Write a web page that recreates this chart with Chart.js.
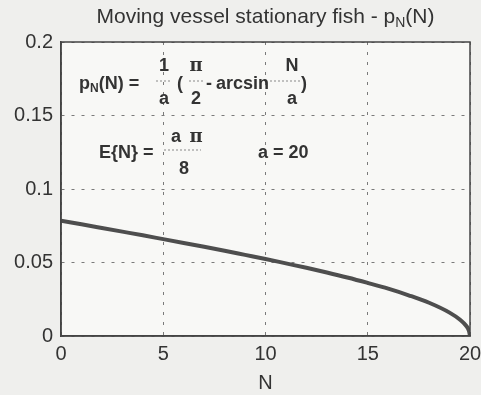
<!DOCTYPE html>
<html>
<head>
<meta charset="utf-8">
<script src="https://cdn.jsdelivr.net/npm/chart.js@4.4.1/dist/chart.umd.min.js"></script>
<style>
  html, body { margin: 0; padding: 0; background: #efefed; }
  #wrap { width: 481px; height: 395px; }
</style>
</head>
<body>
<div id="wrap"><canvas id="myChart" width="481" height="395"></canvas></div>
<script>
// valores
var valoresN = [0, 1, 2, 3, 4, 5, 6, 7, 8, 9, 10, 11, 12, 13, 14, 15, 16, 17, 18, 19, 19.5, 19.8, 19.95, 20];
var valoresP = [0.0785, 0.0760, 0.0735, 0.0710, 0.0685, 0.0659, 0.0633, 0.0607, 0.0580, 0.0552, 0.0524,
                0.0494, 0.0464, 0.0432, 0.0398, 0.0361, 0.0322, 0.0277, 0.0226, 0.0159, 0.0112, 0.0071, 0.0035, 0];
var ticksX = [0, 5, 10, 15, 20];
var ticksY = [0, 0.05, 0.1, 0.15, 0.2];

var tinta = '#333333';
var fuente = 'Liberation Sans, Arial, sans-serif';

// titulo con subindice, centrado sobre el area del grafico
var titulo = {
    id: 'titulo',
    afterDraw: function (chart) {
        var c = chart.ctx, a = chart.chartArea;
        c.save();
        c.fillStyle = tinta;
        c.textBaseline = 'middle';
        c.textAlign = 'left';
        var t1 = 'Moving vessel stationary fish - p', t2 = 'N', t3 = '(N)';
        c.font = '21px ' + fuente;
        var w1 = c.measureText(t1).width, w3 = c.measureText(t3).width;
        c.font = '14px ' + fuente;
        var w2 = c.measureText(t2).width;
        var x = (a.left + a.right) / 2 - (w1 + w2 + w3) / 2;
        c.font = '21px ' + fuente;
        c.fillText(t1, x, 17);
        c.font = '14px ' + fuente;
        c.fillText(t2, x + w1, 23);
        c.font = '21px ' + fuente;
        c.fillText(t3, x + w1 + w2, 17);
        c.restore();
    }
};

// textos de las formulas dentro del area
var formulas = {
    id: 'formulas',
    afterDraw: function (chart) {
        var c = chart.ctx;
        c.save();
        c.fillStyle = tinta;
        c.strokeStyle = '#888';
        c.lineWidth = 1;
        c.textBaseline = 'middle';
        var negrita = 'bold 18px ' + fuente;
        var pi = 'bold 18px DejaVu Serif, serif';

        function texto(t, x, y, f, al) {
            c.font = f || negrita;
            c.textAlign = al || 'left';
            c.fillText(t, x, y);
            return x + c.measureText(t).width;
        }
        function raya(x1, x2, y) {
            c.setLineDash([2, 2]);
            c.beginPath();
            c.moveTo(x1, y);
            c.lineTo(x2, y);
            c.stroke();
            c.setLineDash([]);
        }
        // p_N(N) = 1/a ( pi/2 - arcsin N/a )
        var y1 = 84;
        var x = texto('p', 79, y1);
        x = texto('N', x, y1 + 5, 'bold 12px ' + fuente);
        texto('(N) =', x, y1);
        texto('1', 164, 66, null, 'center');
        raya(156, 172, 81);
        texto('a', 164, 99, null, 'center');
        texto('(', 177, y1);
        texto('\u03c0', 196, 66, pi, 'center');
        raya(189, 203, 81);
        texto('2', 196, 99, null, 'center');
        texto('-', 206, y1);
        texto('arcsin', 216, y1);
        texto('N', 292, 66, null, 'center');
        raya(270, 300, 81);
        texto('a', 292, 99, null, 'center');
        texto(')', 301, y1);

        // E{N} = a pi / 8     a = 20
        var y2 = 153;
        texto('E{N} =', 99, y2);
        texto('a', 176, 137, null, 'center');
        texto('\u03c0', 196, 137, pi, 'center');
        raya(164, 201, 150);
        texto('8', 184, 169, null, 'center');
        texto('a = 20', 258, y2);
        c.restore();
    }
};

var ctx = document.getElementById('myChart').getContext('2d');
var puntos = valoresN.map(function (n, i) { return { x: n, y: valoresP[i] }; });

var myChart = new Chart(ctx, {
    type: 'line',
    data: {
        datasets: [{
            data: puntos,
            borderColor: '#4e4e4e',
            borderWidth: 4,
            pointRadius: 0,
            tension: 0.4,
            cubicInterpolationMode: 'monotone',
            fill: false
        }]
    },
    options: {
        responsive: false,
        animation: false,
        layout: { padding: { left: 0, right: 0, top: 42, bottom: 0 } },
        plugins: {
            legend: { display: false },
            tooltip: { enabled: false },
            title: { display: false }
        },
        scales: {
            x: {
                type: 'linear',
                min: 0,
                max: 20,
                afterBuildTicks: function (s) { s.ticks = ticksX.map(function (v) { return { value: v }; }); },
                afterFit: function (s) {
                    s.height = 59;
                    s.paddingRight = 11; // el "20" queda medio cortado como en la original
                },
                ticks: { color: tinta, font: { family: fuente, size: 20 }, padding: 6, maxRotation: 0 },
                grid: { color: '#7a7a7a', lineWidth: 1, drawTicks: false },
                border: { display: true, color: '#444', width: 1.5, dash: [3, 7] },
                title: { display: true, text: 'N', color: tinta, font: { family: fuente, size: 20 }, padding: { top: 1, bottom: 0 } }
            },
            y: {
                min: 0,
                max: 0.2,
                afterBuildTicks: function (s) { s.ticks = ticksY.map(function (v) { return { value: v }; }); },
                afterFit: function (s) { s.width = 61; },
                ticks: {
                    color: tinta,
                    font: { family: fuente, size: 20 },
                    padding: 8,
                    callback: function (v) { return String(Math.round(v * 100) / 100); }
                },
                grid: { color: '#7a7a7a', lineWidth: 1, drawTicks: false },
                border: { display: true, color: '#444', width: 1.5, dash: [3, 7] }
            }
        }
    },
    plugins: [titulo, formulas, {
        id: 'marco',
        beforeDraw: function (chart) {
            var a = chart.chartArea, c = chart.ctx;
            c.save();
            c.fillStyle = '#f8f8f6';
            c.fillRect(a.left, a.top, a.right - a.left, a.bottom - a.top);
            c.restore();
        },
        afterDatasetsDraw: function (chart) {
            var a = chart.chartArea, c = chart.ctx;
            c.save();
            c.strokeStyle = '#444';
            c.lineWidth = 1.5;
            c.strokeRect(a.left, a.top, a.right - a.left, a.bottom - a.top);
            c.restore();
        }
    }]
});
</script>
</body>
</html>
